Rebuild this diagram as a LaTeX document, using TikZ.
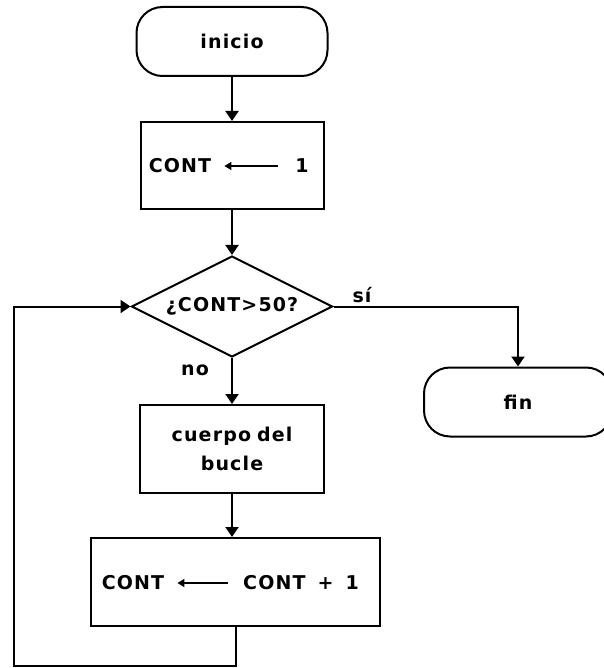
\documentclass[tikz,border=0pt]{standalone}
\usepackage{fontspec}
\setmainfont{DejaVu Sans}
\newfontfamily\flowfont[LetterSpace=6]{DejaVu Sans}
\usetikzlibrary{shapes.geometric,arrows.meta}

\begin{document}
\begin{tikzpicture}
[x=1pt,y=-1pt,
  lineDecorate/.style={line width=2pt},
  arrowDecorate/.style={lineDecorate,-{Triangle[width=13pt,length=10pt]}},
  assignDecorate/.style={line width=1.4pt,-{Triangle[width=8pt,length=7pt]}},
  terminalDecorate/.style={draw,line width=2pt,rounded corners=26pt,minimum height=69pt},
  boxDecorate/.style={draw,line width=2pt,inner sep=0pt},
  decisionDecorate/.style={shape=diamond,draw,line width=2pt,aspect=2,inner sep=0pt,
    minimum width=201pt,minimum height=101pt},
  textDecorate/.style={inner sep=0pt}]
\flowfont\bfseries\fontsize{19}{22}\selectfont
\useasboundingbox (0,0) rectangle (603,668);
%% blocks of the flow
\node (inicio) at (232,41.5) [terminalDecorate,minimum width=191pt] {inicio};
\node (asig) at (232,165.5) [boxDecorate,minimum width=183pt,minimum height=87pt] {};
\node (cond) at (232,306.5) [decisionDecorate] {¿CONT>50?};
\node (cuerpo) at (232,449) [boxDecorate,minimum width=184pt,minimum height=88pt,align=center]
  {cuerpo\hspace{6pt}del\\[7pt]bucle};
\node (incr) at (235.5,582) [boxDecorate,minimum width=289pt,minimum height=88pt] {};
\node (fin) at (518,402) [terminalDecorate,minimum width=188pt] {fin};
%% texts inside the assignments
\node (contA) at (180,166) [textDecorate] {CONT};
\node (unoA) at (302,166) [textDecorate] {1};
\node (contB) at (133,583) [textDecorate] {CONT};
\node (sumaB) at (243,583) [textDecorate,anchor=west] {CONT\hspace{12pt}+\hspace{12pt}1};
%% labels of the branches
\node (si) at (362,295) [textDecorate] {sí};
\node (no) at (195,370) [textDecorate] {no};
\coordinate (retorno) at (14,666);
%% connectors
\draw[arrowDecorate] (inicio) -- (asig);
\draw[arrowDecorate] (asig) -- (cond);
\draw[arrowDecorate] (cond) -- (cuerpo);
\draw[arrowDecorate] (cuerpo) -- (cuerpo |- incr.north);
\draw[arrowDecorate] (cond.east) -| (fin.north);
\draw[arrowDecorate] (incr.south) |- (retorno) |- (cond.west);
\draw[assignDecorate,shorten <=17pt,shorten >=13pt] (unoA.west) -- (contA.east);
\draw[assignDecorate,shorten <=15pt,shorten >=13pt] (sumaB.west) -- (contB.east);
\end{tikzpicture}
\end{document}
